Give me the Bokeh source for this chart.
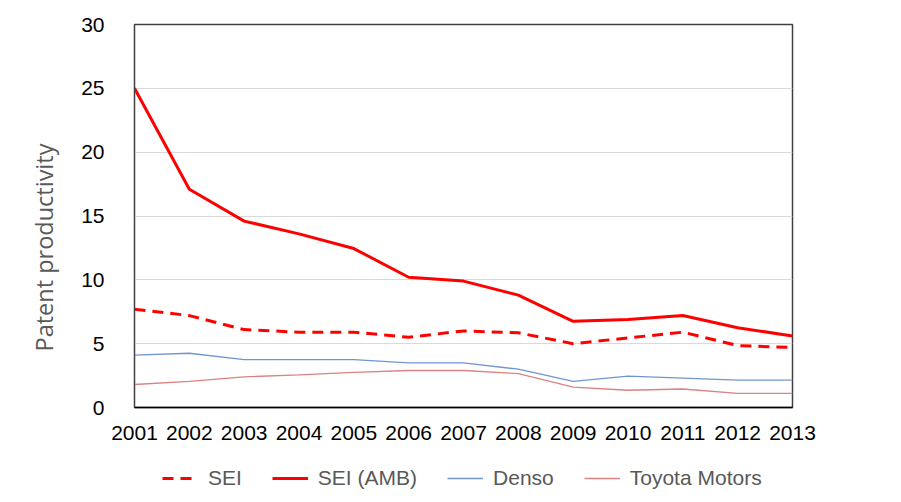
from bokeh.plotting import figure
from bokeh.layouts import column
from bokeh.models import Range1d, FixedTicker, Legend, LegendItem, Title
from bokeh.embed import file_html
from bokeh.resources import INLINE

years = list(range(2001, 2014))
sei = [7.7, 7.2, 6.1, 5.9, 5.9, 5.5, 6.0, 5.85, 5.0, 5.45, 5.9, 4.85, 4.7]
sei_amb = [25.0, 17.1, 14.6, 13.6, 12.45, 10.2, 9.9, 8.8, 6.75, 6.9, 7.2, 6.25, 5.6]
denso = [4.1, 4.25, 3.75, 3.75, 3.75, 3.5, 3.5, 3.0, 2.05, 2.45, 2.3, 2.15, 2.15]
toyota = [1.8, 2.05, 2.4, 2.55, 2.75, 2.9, 2.9, 2.65, 1.6, 1.35, 1.45, 1.1, 1.1]
y_ticks = [0, 5, 10, 15, 20, 25, 30]
series_names = ["SEI", "SEI (AMB)", "Denso", "Toyota Motors"]

FONT = "Liberation Sans"
styles = [
    dict(line_color="#FF0000", line_width=3, line_dash="11 7"),
    dict(line_color="#FF0000", line_width=3),
    dict(line_color="#7096CF", line_width=1.3),
    dict(line_color="#DC8282", line_width=1.3),
]

p = figure(output_backend="svg", toolbar_location=None,
           x_range=Range1d(2001, 2013), y_range=Range1d(0, 30),
           frame_width=658, frame_height=383,
           min_border_left=134, min_border_right=109, min_border_top=24, min_border_bottom=48)

p.outline_line_color = "#404040"
p.outline_line_width = 1.5
p.xgrid.grid_line_color = None
p.ygrid.grid_line_color = "#D9D9D9"
p.ygrid.grid_line_width = 1

p.xaxis.ticker = FixedTicker(ticks=years)
p.yaxis.ticker = FixedTicker(ticks=y_ticks)
for ax in (p.xaxis[0], p.yaxis[0]):
    ax.major_tick_line_color = None
    ax.minor_tick_line_color = None
    ax.major_tick_out = 0
    ax.major_tick_in = 0
    ax.minor_tick_out = 0
    ax.major_label_text_font = FONT
    ax.major_label_text_font_size = "21px"
    ax.major_label_text_color = "#000000"
p.xaxis.axis_line_color = "#000000"
p.xaxis.axis_line_width = 1.5
p.yaxis.axis_line_color = "#404040"
p.xaxis.major_label_standoff = 18
p.yaxis.major_label_standoff = 30

ytitle = Title(text="Patent productivity", align="left", offset=56,
               text_font="Open Sans", text_font_style="normal",
               text_font_size="23.5px", text_color="#595959", standoff=38)
p.add_layout(ytitle, "left")

for ys, st in zip([sei, sei_amb, denso, toyota], styles):
    p.line(years, ys, **st)

# legend strip below the chart (its frame is aligned with the chart's frame)
lg = figure(output_backend="svg", toolbar_location=None, width=901, height=47,
            x_range=Range1d(0, 1), y_range=Range1d(0, 1),
            x_axis_location=None, y_axis_location=None,
            min_border_left=0, min_border_right=0, min_border_top=0, min_border_bottom=0)
lg.xgrid.grid_line_color = None
lg.ygrid.grid_line_color = None
lg.outline_line_color = None
items = []
for name, st in zip(series_names, styles):
    r = lg.line([5, 6], [5, 6], **st)  # off-range: only its legend glyph shows
    items.append(LegendItem(label=name, renderers=[r]))
legend = Legend(items=items, orientation="horizontal", location=(28, 12))
legend.border_line_color = None
legend.background_fill_alpha = 0
legend.label_text_font = FONT
legend.label_text_font_size = "21px"
legend.label_text_color = "#595959"
legend.glyph_width = 36
legend.spacing = 30
legend.label_standoff = 10
legend.margin = 0
legend.padding = 0
lg.add_layout(legend, "center")

layout = column(p, lg, spacing=0)
open("out.html", "w").write(file_html(layout, INLINE))
